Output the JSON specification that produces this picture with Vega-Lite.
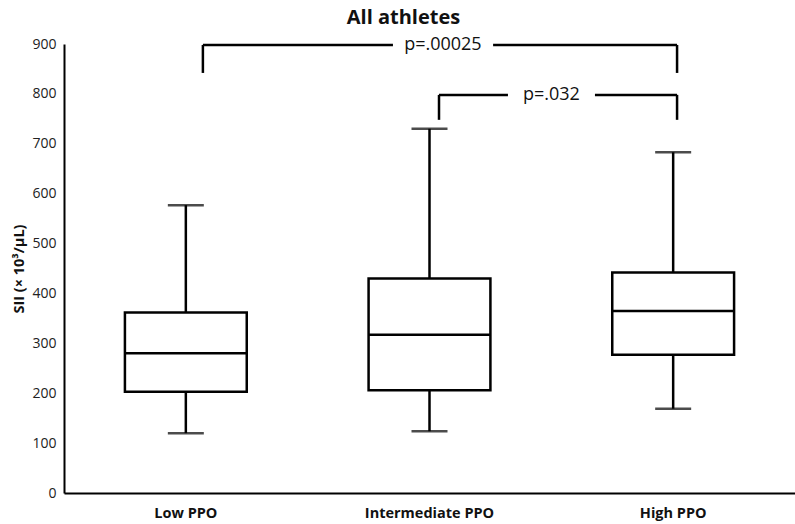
{
  "$schema": "https://vega.github.io/schema/vega-lite/v6.json",
  "width": 731,
  "height": 449,
  "autosize": {"type": "none"},
  "padding": {"left": 64, "top": 44, "right": 0, "bottom": 31},
  "background": "white",
  "config": {
    "view": {"stroke": null},
    "font": "Open Sans",
    "axis": {"grid": false, "ticks": false, "domainColor": "#000", "domainWidth": 2, "labelColor": "#222", "titleColor": "#111"}
  },
  "title": {"text": "All athletes", "fontSize": 20, "fontWeight": "bold", "frame": "bounds", "anchor": "middle", "offset": 8, "color": "#111"},
  "datasets": {
    "boxes": [
      {"group": "Low PPO", "min": 120, "q1": 203, "median": 280, "q3": 362, "max": 577},
      {"group": "Intermediate PPO", "min": 124, "q1": 206, "median": 317, "q3": 430, "max": 730},
      {"group": "High PPO", "min": 169, "q1": 277, "median": 365, "q3": 442, "max": 683}
    ],
    "brackets": [
      {"x": 1.07, "x2": 1.85, "y": 898, "y2": 898},
      {"x": 2.261, "x2": 3.016, "y": 898, "y2": 898},
      {"x": 1.07, "x2": 1.07, "y": 842, "y2": 898},
      {"x": 3.016, "x2": 3.016, "y": 842, "y2": 898},
      {"x": 2.039, "x2": 2.322, "y": 798, "y2": 798},
      {"x": 2.679, "x2": 3.016, "y": 798, "y2": 798},
      {"x": 2.039, "x2": 2.039, "y": 748, "y2": 798},
      {"x": 3.016, "x2": 3.016, "y": 748, "y2": 798}
    ],
    "pvalues": [
      {"x": 2.055, "y": 898, "label": "p=.00025"},
      {"x": 2.5, "y": 798, "label": "p=.032"}
    ]
  },
  "layer": [
    {
      "data": {"name": "boxes"},
      "encoding": {
        "x": {
          "field": "group", "type": "nominal", "sort": null,
          "scale": {"paddingInner": 0.5, "paddingOuter": 0.25},
          "axis": {"title": null, "labelFontSize": 14.5, "labelFontWeight": "bold", "labelColor": "#111", "labelPadding": 13, "labelAngle": 0}
        }
      },
      "layer": [
        {
          "mark": {"type": "rule", "color": "#000", "strokeWidth": 2.5},
          "encoding": {
            "y": {"field": "min", "type": "quantitative", "scale": {"domain": [0, 900]},
                  "axis": {"values": [0, 100, 200, 300, 400, 500, 600, 700, 800, 900], "labelFontSize": 14, "labelPadding": 8, "title": "SII (× 10³/µL)", "titleFontSize": 14.5, "titleFontWeight": "bold", "titlePadding": 5}},
            "y2": {"field": "max"}
          }
        },
        {
          "mark": {"type": "tick", "color": "#000", "size": 36, "thickness": 2.5},
          "encoding": {"y": {"field": "min", "type": "quantitative"}}
        },
        {
          "mark": {"type": "tick", "color": "#000", "size": 36, "thickness": 2.5},
          "encoding": {"y": {"field": "max", "type": "quantitative"}}
        },
        {
          "mark": {"type": "bar", "fill": "white", "stroke": "#000", "strokeWidth": 2.5},
          "encoding": {"y": {"field": "q1", "type": "quantitative"}, "y2": {"field": "q3"}}
        },
        {
          "mark": {"type": "bar", "fill": "white", "stroke": "#000", "strokeWidth": 2.5},
          "encoding": {"y": {"field": "median", "type": "quantitative"}, "y2": {"field": "median"}}
        }
      ]
    },
    {
      "layer": [
        {
          "data": {"name": "brackets"},
          "mark": {"type": "rule", "color": "#000", "strokeWidth": 2.5},
          "encoding": {
            "x": {"field": "x", "type": "quantitative", "scale": {"domain": [0.5, 3.5], "nice": false, "zero": false}, "axis": null},
            "x2": {"field": "x2"},
            "y": {"field": "y", "type": "quantitative"},
            "y2": {"field": "y2"}
          }
        },
        {
          "data": {"name": "pvalues"},
          "mark": {"type": "text", "fontSize": 18, "color": "#111", "align": "center", "baseline": "middle"},
          "encoding": {
            "x": {"field": "x", "type": "quantitative"},
            "y": {"field": "y", "type": "quantitative"},
            "text": {"field": "label"}
          }
        }
      ]
    }
  ],
  "resolve": {"scale": {"x": "independent"}}
}
